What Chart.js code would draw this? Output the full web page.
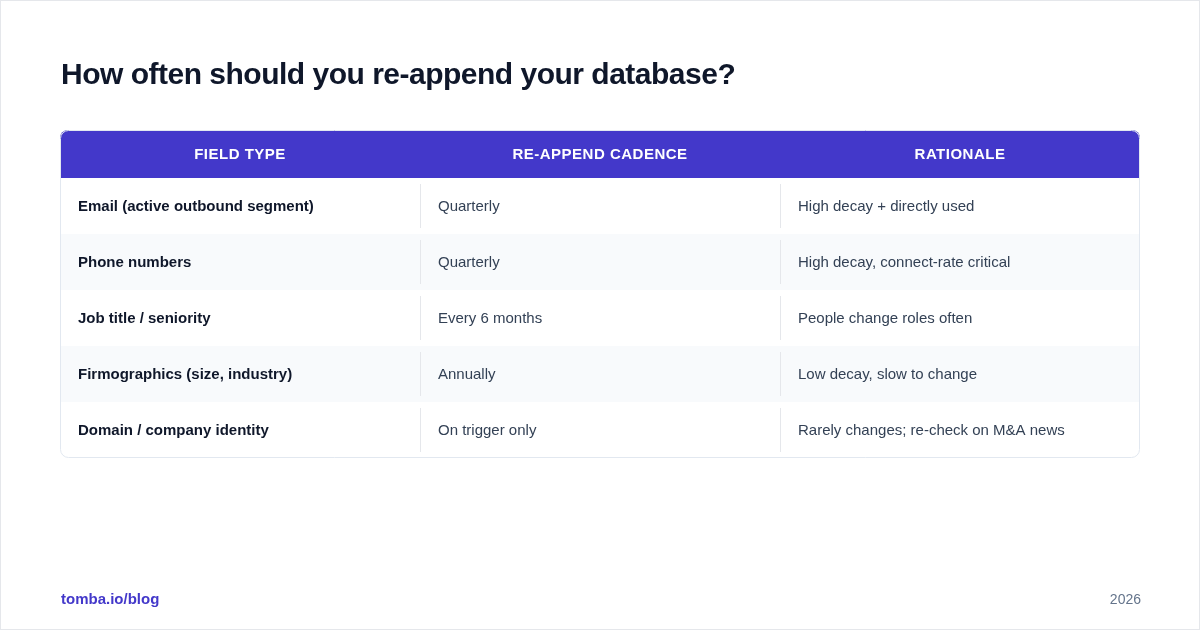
<!DOCTYPE html>
<html>
<head>
<meta charset="utf-8">
<script src="https://cdn.jsdelivr.net/npm/chart.js@4.4.1/dist/chart.umd.min.js"></script>
<style>
  html, body { margin: 0; padding: 0; background: #fff; }
  #wrap { width: 1200px; height: 630px; position: relative; box-sizing: border-box; border: 1px solid #e5e7eb; }
  canvas { display: block; }
</style>
</head>
<body>
<div id="wrap"><canvas id="chart" width="1200" height="630"></canvas></div>
<script>
const title = "How often should you re-append your database?";
const headers = ["FIELD TYPE", "RE-APPEND CADENCE", "RATIONALE"];
const fieldTypes = ["Email (active outbound segment)", "Phone numbers", "Job title / seniority", "Firmographics (size, industry)", "Domain / company identity"];
const cadences = ["Quarterly", "Quarterly", "Every 6 months", "Annually", "On trigger only"];
const rationales = ["High decay + directly used", "High decay, connect-rate critical", "People change roles often", "Low decay, slow to change", "Rarely changes; re-check on M&A news"];
const footerLeft = "tomba.io/blog";
const footerRight = "2026";

// header band is 48/56 of a row
const headerSpan = 48 / 56;
const FONT = '"Liberation Sans", Arial, sans-serif';

const tablePlugin = {
    id: "table",
    beforeDatasetsDraw(chart) {
        const ctx = chart.ctx;
        const x = chart.scales.x, y = chart.scales.y;
        const left = x.getPixelForValue(0), right = x.getPixelForValue(3);
        const top = y.getPixelForValue(0);
        const bottom = y.getPixelForValue(headerSpan + fieldTypes.length);
        const hb = y.getPixelForValue(headerSpan);
        const r = 8;

        ctx.save();
        // clip rounded table
        ctx.beginPath();
        ctx.roundRect(left, top, right - left, bottom - top, r);
        ctx.save();
        ctx.clip();
        ctx.fillStyle = "#fff";
        ctx.fillRect(left, top, right - left, bottom - top);
        ctx.fillStyle = "#4338ca";
        ctx.fillRect(left, top, right - left, hb - top);
        fieldTypes.forEach((f, i) => {
            const y0 = y.getPixelForValue(headerSpan + i), y1 = y.getPixelForValue(headerSpan + i + 1);
            if (i % 2 === 1) {
                ctx.fillStyle = "#f8fafc";
                ctx.fillRect(left, y0, right - left, y1 - y0);
            }
            ctx.strokeStyle = "#e5e7eb";
            ctx.lineWidth = 1;
            [1, 2].forEach(c => {
                const cx = Math.round(x.getPixelForValue(c)) + 0.5;
                ctx.beginPath();
                ctx.moveTo(cx, y0 + 6);
                ctx.lineTo(cx, y1 - 6);
                ctx.stroke();
            });
        });
        ctx.restore();
        ctx.strokeStyle = "#e2e8f0";
        ctx.lineWidth = 1;
        ctx.beginPath();
        ctx.roundRect(left + 0.5, top + 0.5, right - left - 1, bottom - top - 1, r);
        ctx.stroke();

        // header text
        ctx.fillStyle = "#ffffff";
        ctx.font = "bold 15px " + FONT;
        ctx.textAlign = "center";
        ctx.textBaseline = "middle";
        ctx.letterSpacing = "0.5px";
        headers.forEach((h, c) => {
            ctx.fillText(h, x.getPixelForValue(c + 0.5), (top + hb) / 2 + 1);
        });
        ctx.letterSpacing = "0px";

        // body text
        ctx.textAlign = "left";
        const cols = [fieldTypes, cadences, rationales];
        cols.forEach((col, c) => {
            ctx.font = (c === 0 ? "bold " : "") + "15px " + FONT;
            ctx.fillStyle = c === 0 ? "#0f172a" : "#334155";
            col.forEach((t, i) => {
                const yc = y.getPixelForValue(headerSpan + i + 0.5);
                ctx.fillText(t, x.getPixelForValue(c) + 18, yc + 1);
            });
        });

        // title and footer
        ctx.fillStyle = "#0f172a";
        ctx.font = "bold 30px " + FONT;
        ctx.letterSpacing = "-0.5px";
        ctx.fillText(title, 60, 75);
        ctx.letterSpacing = "0px";
        ctx.font = "bold 15px " + FONT;
        ctx.fillStyle = "#4338ca";
        ctx.fillText(footerLeft, 60, 599);
        ctx.font = "14px " + FONT;
        ctx.fillStyle = "#64748b";
        ctx.textAlign = "right";
        ctx.fillText(footerRight, 1140, 599);
        ctx.restore();
    }
};

const ctx = document.getElementById("chart").getContext("2d");
new Chart(ctx, {
    type: "scatter",
    data: { datasets: [{ data: fieldTypes.map((f, i) => ({ x: 0.5, y: headerSpan + i + 0.5 })), pointRadius: 0 }] },
    options: {
        responsive: false,
        animation: false,
        events: [],
        layout: { padding: { left: 59, right: 61, top: 129, bottom: 631 - 458 } },
        plugins: { legend: { display: false }, tooltip: { enabled: false } },
        scales: {
            x: { type: "linear", min: 0, max: 3, display: false },
            y: { type: "linear", min: 0, max: headerSpan + fieldTypes.length, reverse: true, display: false }
        }
    },
    plugins: [tablePlugin]
});
</script>
</body>
</html>
